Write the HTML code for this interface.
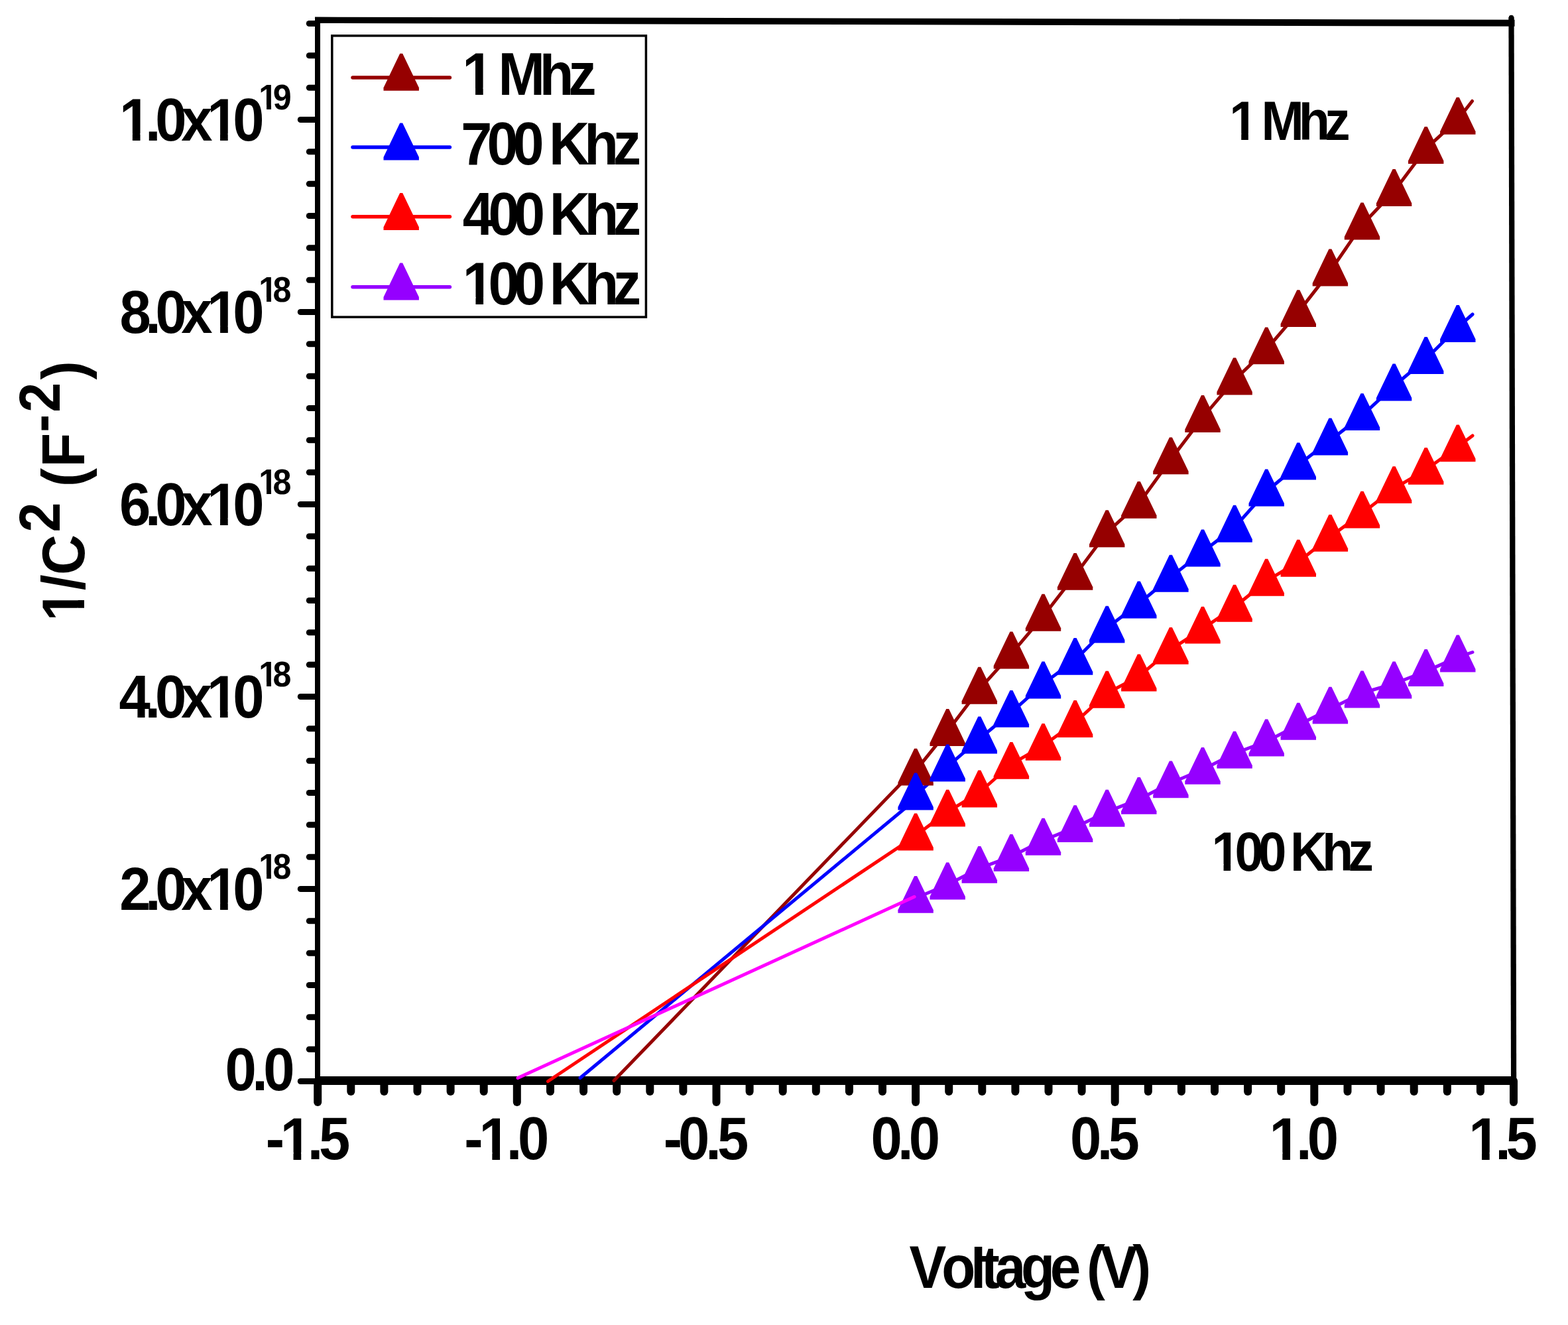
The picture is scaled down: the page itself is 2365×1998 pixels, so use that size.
<!DOCTYPE html>
<html><head><meta charset="utf-8"><title>1/C2 vs Voltage</title>
<style>html,body{margin:0;padding:0;background:#fff;overflow:hidden;}svg{display:block;}</style>
</head><body>
<svg width="2365" height="1998" viewBox="0 0 2365 1998">
<defs>
<clipPath id="c1_54" clipPathUnits="userSpaceOnUse"><rect x="-20" y="-64.8" width="64.8" height="57.79"/><rect x="12.60" y="-8.51" width="7.41" height="21.71"/></clipPath>
<clipPath id="ca_54" clipPathUnits="userSpaceOnUse"><rect x="-20" y="-37.15" width="64.8" height="53.35"/></clipPath>
<clipPath id="c1_83" clipPathUnits="userSpaceOnUse"><rect x="-20" y="-99.6" width="99.6" height="89.63"/><rect x="19.37" y="-11.47" width="11.39" height="33.37"/></clipPath>
<clipPath id="ca_83" clipPathUnits="userSpaceOnUse"><rect x="-20" y="-57.10" width="99.6" height="82.00"/></clipPath>
<clipPath id="c1_90" clipPathUnits="userSpaceOnUse"><rect x="-20" y="-108.0" width="108.0" height="97.32"/><rect x="21.01" y="-12.18" width="12.35" height="36.18"/></clipPath>
<clipPath id="ca_90" clipPathUnits="userSpaceOnUse"><rect x="-20" y="-61.92" width="108.0" height="88.92"/></clipPath>
<clipPath id="c1_91" clipPathUnits="userSpaceOnUse"><rect x="-20" y="-109.2" width="109.2" height="98.41"/><rect x="21.24" y="-12.29" width="12.49" height="36.59"/></clipPath>
<clipPath id="ca_91" clipPathUnits="userSpaceOnUse"><rect x="-20" y="-62.61" width="109.2" height="89.91"/></clipPath>
<clipPath id="c1_91_5" clipPathUnits="userSpaceOnUse"><rect x="-20" y="-109.8" width="109.8" height="98.96"/><rect x="21.36" y="-12.34" width="12.55" height="36.79"/></clipPath>
<clipPath id="ca_91_5" clipPathUnits="userSpaceOnUse"><rect x="-20" y="-62.95" width="109.8" height="90.40"/></clipPath>
</defs>
<rect width="2365" height="1998" fill="#fff"/>
<line x1="453.3" y1="1630.5" x2="477" y2="1630.5" stroke="#000" stroke-width="9" stroke-linecap="round"/>
<line x1="466.3" y1="1582.2" x2="477" y2="1582.2" stroke="#000" stroke-width="9" stroke-linecap="round"/>
<line x1="466.3" y1="1533.8" x2="477" y2="1533.8" stroke="#000" stroke-width="9" stroke-linecap="round"/>
<line x1="466.3" y1="1485.5" x2="477" y2="1485.5" stroke="#000" stroke-width="9" stroke-linecap="round"/>
<line x1="466.3" y1="1437.2" x2="477" y2="1437.2" stroke="#000" stroke-width="9" stroke-linecap="round"/>
<line x1="466.3" y1="1388.8" x2="477" y2="1388.8" stroke="#000" stroke-width="9" stroke-linecap="round"/>
<line x1="453.3" y1="1340.5" x2="477" y2="1340.5" stroke="#000" stroke-width="9" stroke-linecap="round"/>
<line x1="466.3" y1="1292.2" x2="477" y2="1292.2" stroke="#000" stroke-width="9" stroke-linecap="round"/>
<line x1="466.3" y1="1243.8" x2="477" y2="1243.8" stroke="#000" stroke-width="9" stroke-linecap="round"/>
<line x1="466.3" y1="1195.5" x2="477" y2="1195.5" stroke="#000" stroke-width="9" stroke-linecap="round"/>
<line x1="466.3" y1="1147.2" x2="477" y2="1147.2" stroke="#000" stroke-width="9" stroke-linecap="round"/>
<line x1="466.3" y1="1098.8" x2="477" y2="1098.8" stroke="#000" stroke-width="9" stroke-linecap="round"/>
<line x1="453.3" y1="1050.5" x2="477" y2="1050.5" stroke="#000" stroke-width="9" stroke-linecap="round"/>
<line x1="466.3" y1="1002.2" x2="477" y2="1002.2" stroke="#000" stroke-width="9" stroke-linecap="round"/>
<line x1="466.3" y1="953.8" x2="477" y2="953.8" stroke="#000" stroke-width="9" stroke-linecap="round"/>
<line x1="466.3" y1="905.5" x2="477" y2="905.5" stroke="#000" stroke-width="9" stroke-linecap="round"/>
<line x1="466.3" y1="857.2" x2="477" y2="857.2" stroke="#000" stroke-width="9" stroke-linecap="round"/>
<line x1="466.3" y1="808.8" x2="477" y2="808.8" stroke="#000" stroke-width="9" stroke-linecap="round"/>
<line x1="453.3" y1="760.5" x2="477" y2="760.5" stroke="#000" stroke-width="9" stroke-linecap="round"/>
<line x1="466.3" y1="712.2" x2="477" y2="712.2" stroke="#000" stroke-width="9" stroke-linecap="round"/>
<line x1="466.3" y1="663.8" x2="477" y2="663.8" stroke="#000" stroke-width="9" stroke-linecap="round"/>
<line x1="466.3" y1="615.5" x2="477" y2="615.5" stroke="#000" stroke-width="9" stroke-linecap="round"/>
<line x1="466.3" y1="567.2" x2="477" y2="567.2" stroke="#000" stroke-width="9" stroke-linecap="round"/>
<line x1="466.3" y1="518.8" x2="477" y2="518.8" stroke="#000" stroke-width="9" stroke-linecap="round"/>
<line x1="453.3" y1="470.5" x2="477" y2="470.5" stroke="#000" stroke-width="9" stroke-linecap="round"/>
<line x1="466.3" y1="422.2" x2="477" y2="422.2" stroke="#000" stroke-width="9" stroke-linecap="round"/>
<line x1="466.3" y1="373.8" x2="477" y2="373.8" stroke="#000" stroke-width="9" stroke-linecap="round"/>
<line x1="466.3" y1="325.5" x2="477" y2="325.5" stroke="#000" stroke-width="9" stroke-linecap="round"/>
<line x1="466.3" y1="277.2" x2="477" y2="277.2" stroke="#000" stroke-width="9" stroke-linecap="round"/>
<line x1="466.3" y1="228.8" x2="477" y2="228.8" stroke="#000" stroke-width="9" stroke-linecap="round"/>
<line x1="453.3" y1="180.5" x2="477" y2="180.5" stroke="#000" stroke-width="9" stroke-linecap="round"/>
<line x1="466.3" y1="132.2" x2="477" y2="132.2" stroke="#000" stroke-width="9" stroke-linecap="round"/>
<line x1="466.3" y1="83.8" x2="477" y2="83.8" stroke="#000" stroke-width="9" stroke-linecap="round"/>
<line x1="466.3" y1="35.5" x2="477" y2="35.5" stroke="#000" stroke-width="9" stroke-linecap="round"/>
<line x1="479.2" y1="1630" x2="479.2" y2="1662" stroke="#000" stroke-width="12" stroke-linecap="round"/>
<line x1="529.3" y1="1630" x2="529.3" y2="1646" stroke="#000" stroke-width="12" stroke-linecap="round"/>
<line x1="579.4" y1="1630" x2="579.4" y2="1646" stroke="#000" stroke-width="12" stroke-linecap="round"/>
<line x1="629.5" y1="1630" x2="629.5" y2="1646" stroke="#000" stroke-width="12" stroke-linecap="round"/>
<line x1="679.6" y1="1630" x2="679.6" y2="1646" stroke="#000" stroke-width="12" stroke-linecap="round"/>
<line x1="729.7" y1="1630" x2="729.7" y2="1646" stroke="#000" stroke-width="12" stroke-linecap="round"/>
<line x1="779.8" y1="1630" x2="779.8" y2="1662" stroke="#000" stroke-width="12" stroke-linecap="round"/>
<line x1="830.0" y1="1630" x2="830.0" y2="1646" stroke="#000" stroke-width="12" stroke-linecap="round"/>
<line x1="880.1" y1="1630" x2="880.1" y2="1646" stroke="#000" stroke-width="12" stroke-linecap="round"/>
<line x1="930.2" y1="1630" x2="930.2" y2="1646" stroke="#000" stroke-width="12" stroke-linecap="round"/>
<line x1="980.3" y1="1630" x2="980.3" y2="1646" stroke="#000" stroke-width="12" stroke-linecap="round"/>
<line x1="1030.4" y1="1630" x2="1030.4" y2="1646" stroke="#000" stroke-width="12" stroke-linecap="round"/>
<line x1="1080.5" y1="1630" x2="1080.5" y2="1662" stroke="#000" stroke-width="12" stroke-linecap="round"/>
<line x1="1130.6" y1="1630" x2="1130.6" y2="1646" stroke="#000" stroke-width="12" stroke-linecap="round"/>
<line x1="1180.7" y1="1630" x2="1180.7" y2="1646" stroke="#000" stroke-width="12" stroke-linecap="round"/>
<line x1="1230.8" y1="1630" x2="1230.8" y2="1646" stroke="#000" stroke-width="12" stroke-linecap="round"/>
<line x1="1280.9" y1="1630" x2="1280.9" y2="1646" stroke="#000" stroke-width="12" stroke-linecap="round"/>
<line x1="1331.0" y1="1630" x2="1331.0" y2="1646" stroke="#000" stroke-width="12" stroke-linecap="round"/>
<line x1="1381.1" y1="1630" x2="1381.1" y2="1662" stroke="#000" stroke-width="12" stroke-linecap="round"/>
<line x1="1431.2" y1="1630" x2="1431.2" y2="1646" stroke="#000" stroke-width="12" stroke-linecap="round"/>
<line x1="1481.3" y1="1630" x2="1481.3" y2="1646" stroke="#000" stroke-width="12" stroke-linecap="round"/>
<line x1="1531.4" y1="1630" x2="1531.4" y2="1646" stroke="#000" stroke-width="12" stroke-linecap="round"/>
<line x1="1581.5" y1="1630" x2="1581.5" y2="1646" stroke="#000" stroke-width="12" stroke-linecap="round"/>
<line x1="1631.6" y1="1630" x2="1631.6" y2="1646" stroke="#000" stroke-width="12" stroke-linecap="round"/>
<line x1="1681.7" y1="1630" x2="1681.7" y2="1662" stroke="#000" stroke-width="12" stroke-linecap="round"/>
<line x1="1731.8" y1="1630" x2="1731.8" y2="1646" stroke="#000" stroke-width="12" stroke-linecap="round"/>
<line x1="1781.9" y1="1630" x2="1781.9" y2="1646" stroke="#000" stroke-width="12" stroke-linecap="round"/>
<line x1="1832.0" y1="1630" x2="1832.0" y2="1646" stroke="#000" stroke-width="12" stroke-linecap="round"/>
<line x1="1882.1" y1="1630" x2="1882.1" y2="1646" stroke="#000" stroke-width="12" stroke-linecap="round"/>
<line x1="1932.2" y1="1630" x2="1932.2" y2="1646" stroke="#000" stroke-width="12" stroke-linecap="round"/>
<line x1="1982.3" y1="1630" x2="1982.3" y2="1662" stroke="#000" stroke-width="12" stroke-linecap="round"/>
<line x1="2032.5" y1="1630" x2="2032.5" y2="1646" stroke="#000" stroke-width="12" stroke-linecap="round"/>
<line x1="2082.6" y1="1630" x2="2082.6" y2="1646" stroke="#000" stroke-width="12" stroke-linecap="round"/>
<line x1="2132.7" y1="1630" x2="2132.7" y2="1646" stroke="#000" stroke-width="12" stroke-linecap="round"/>
<line x1="2182.8" y1="1630" x2="2182.8" y2="1646" stroke="#000" stroke-width="12" stroke-linecap="round"/>
<line x1="2232.9" y1="1630" x2="2232.9" y2="1646" stroke="#000" stroke-width="12" stroke-linecap="round"/>
<line x1="2283.0" y1="1630" x2="2283.0" y2="1662" stroke="#000" stroke-width="12" stroke-linecap="round"/>
<rect x="475" y="26" width="8" height="1610" fill="#000"/>
<path d="M2275.4,26 L2283.6,26 L2287.2,1636 L2279,1636 Z" fill="#000"/>
<line x1="2279.5" y1="26.5" x2="2279.5" y2="30" stroke="#000" stroke-width="7.5" stroke-linecap="round"/>
<path d="M475,25.6 L2284.5,29.8 L2284.5,39.8 L475,35 Z" fill="#000"/>
<rect x="475" y="1623" width="1812" height="13" fill="#000"/>
<line x1="926.0" y1="1629.5" x2="1381.1" y2="1158.5" stroke="#960000" stroke-width="5.0" stroke-linecap="round"/>
<line x1="875.0" y1="1625.5" x2="1381.1" y2="1205.5" stroke="#0000ff" stroke-width="5.0" stroke-linecap="round"/>
<line x1="826.5" y1="1630.5" x2="1381.1" y2="1260.5" stroke="#ff0000" stroke-width="5.0" stroke-linecap="round"/>
<polyline points="1381.1,1162.1 1429.2,1102.4 1477.3,1039.2 1525.4,985.9 1573.5,929.2 1621.6,867.3 1669.7,802.7 1717.8,759.3 1765.9,692.8 1814.0,629.5 1862.1,572.9 1910.2,526.8 1958.3,470.6 2006.4,408.9 2054.5,338.9 2102.6,288.5 2150.7,224.4 2198.8,180.2 2220.5,152.5" fill="none" stroke="#960000" stroke-width="5.0" stroke-linejoin="round" stroke-linecap="round"/>
<polyline points="1381.1,1198.9 1429.2,1156.0 1477.3,1114.0 1525.4,1074.3 1573.5,1031.0 1621.6,995.3 1669.7,947.1 1717.8,910.0 1765.9,870.2 1814.0,832.0 1862.1,795.2 1910.2,741.0 1958.3,701.0 2006.4,664.0 2054.5,626.6 2102.6,582.0 2150.7,541.4 2198.8,493.5 2221.0,474.0" fill="none" stroke="#0000ff" stroke-width="5.0" stroke-linejoin="round" stroke-linecap="round"/>
<polyline points="1381.1,1260.0 1429.2,1224.1 1477.3,1195.0 1525.4,1152.3 1573.5,1124.3 1621.6,1089.5 1669.7,1045.2 1717.8,1019.9 1765.9,979.3 1814.0,948.1 1862.1,915.2 1910.2,876.2 1958.3,847.2 2006.4,809.3 2054.5,774.1 2102.6,736.6 2150.7,708.3 2198.8,673.8 2221.0,657.0" fill="none" stroke="#ff0000" stroke-width="5.0" stroke-linejoin="round" stroke-linecap="round"/>
<polyline points="1381.1,1354.3 1429.2,1334.0 1477.3,1309.3 1525.4,1291.4 1573.5,1267.2 1621.6,1247.6 1669.7,1224.2 1717.8,1205.3 1765.9,1180.8 1814.0,1160.3 1862.1,1136.2 1910.2,1118.0 1958.3,1093.2 2006.4,1069.1 2054.5,1045.0 2102.6,1031.0 2150.7,1012.4 2198.8,990.9 2221.0,983.5" fill="none" stroke="#9500ff" stroke-width="5.0" stroke-linejoin="round" stroke-linecap="round"/>
<path d="M1379.1,1128.7 L1383.1,1128.7 L1407.8,1180.1 L1407.8,1184.6 L1354.4,1184.6 L1354.4,1180.1 Z" fill="#960000"/>
<path d="M1427.2,1069.0 L1431.2,1069.0 L1455.9,1120.4 L1455.9,1124.9 L1402.5,1124.9 L1402.5,1120.4 Z" fill="#960000"/>
<path d="M1475.3,1005.8 L1479.3,1005.8 L1504.0,1057.2 L1504.0,1061.7 L1450.6,1061.7 L1450.6,1057.2 Z" fill="#960000"/>
<path d="M1523.4,952.5 L1527.4,952.5 L1552.1,1003.9 L1552.1,1008.4 L1498.7,1008.4 L1498.7,1003.9 Z" fill="#960000"/>
<path d="M1571.5,895.8 L1575.5,895.8 L1600.2,947.2 L1600.2,951.7 L1546.8,951.7 L1546.8,947.2 Z" fill="#960000"/>
<path d="M1619.6,833.9 L1623.6,833.9 L1648.3,885.3 L1648.3,889.8 L1594.9,889.8 L1594.9,885.3 Z" fill="#960000"/>
<path d="M1667.7,769.3 L1671.7,769.3 L1696.4,820.7 L1696.4,825.2 L1643.0,825.2 L1643.0,820.7 Z" fill="#960000"/>
<path d="M1715.8,725.9 L1719.8,725.9 L1744.5,777.3 L1744.5,781.8 L1691.1,781.8 L1691.1,777.3 Z" fill="#960000"/>
<path d="M1763.9,659.4 L1767.9,659.4 L1792.6,710.8 L1792.6,715.3 L1739.2,715.3 L1739.2,710.8 Z" fill="#960000"/>
<path d="M1812.0,596.1 L1816.0,596.1 L1840.7,647.5 L1840.7,652.0 L1787.3,652.0 L1787.3,647.5 Z" fill="#960000"/>
<path d="M1860.1,539.5 L1864.1,539.5 L1888.8,590.9 L1888.8,595.4 L1835.4,595.4 L1835.4,590.9 Z" fill="#960000"/>
<path d="M1908.2,493.4 L1912.2,493.4 L1936.9,544.8 L1936.9,549.3 L1883.5,549.3 L1883.5,544.8 Z" fill="#960000"/>
<path d="M1956.3,437.2 L1960.3,437.2 L1985.0,488.6 L1985.0,493.1 L1931.6,493.1 L1931.6,488.6 Z" fill="#960000"/>
<path d="M2004.4,375.5 L2008.4,375.5 L2033.1,426.9 L2033.1,431.4 L1979.7,431.4 L1979.7,426.9 Z" fill="#960000"/>
<path d="M2052.5,305.5 L2056.5,305.5 L2081.2,356.9 L2081.2,361.4 L2027.8,361.4 L2027.8,356.9 Z" fill="#960000"/>
<path d="M2100.6,255.1 L2104.6,255.1 L2129.3,306.5 L2129.3,311.0 L2075.9,311.0 L2075.9,306.5 Z" fill="#960000"/>
<path d="M2148.7,191.0 L2152.7,191.0 L2177.4,242.4 L2177.4,246.9 L2124.0,246.9 L2124.0,242.4 Z" fill="#960000"/>
<path d="M2196.8,146.8 L2200.8,146.8 L2225.5,198.2 L2225.5,202.7 L2172.1,202.7 L2172.1,198.2 Z" fill="#960000"/>
<path d="M1379.1,1165.5 L1383.1,1165.5 L1407.8,1216.9 L1407.8,1221.4 L1354.4,1221.4 L1354.4,1216.9 Z" fill="#0000ff"/>
<path d="M1427.2,1122.6 L1431.2,1122.6 L1455.9,1174.0 L1455.9,1178.5 L1402.5,1178.5 L1402.5,1174.0 Z" fill="#0000ff"/>
<path d="M1475.3,1080.6 L1479.3,1080.6 L1504.0,1132.0 L1504.0,1136.5 L1450.6,1136.5 L1450.6,1132.0 Z" fill="#0000ff"/>
<path d="M1523.4,1040.9 L1527.4,1040.9 L1552.1,1092.3 L1552.1,1096.8 L1498.7,1096.8 L1498.7,1092.3 Z" fill="#0000ff"/>
<path d="M1571.5,997.6 L1575.5,997.6 L1600.2,1049.0 L1600.2,1053.5 L1546.8,1053.5 L1546.8,1049.0 Z" fill="#0000ff"/>
<path d="M1619.6,961.9 L1623.6,961.9 L1648.3,1013.3 L1648.3,1017.8 L1594.9,1017.8 L1594.9,1013.3 Z" fill="#0000ff"/>
<path d="M1667.7,913.7 L1671.7,913.7 L1696.4,965.1 L1696.4,969.6 L1643.0,969.6 L1643.0,965.1 Z" fill="#0000ff"/>
<path d="M1715.8,876.6 L1719.8,876.6 L1744.5,928.0 L1744.5,932.5 L1691.1,932.5 L1691.1,928.0 Z" fill="#0000ff"/>
<path d="M1763.9,836.8 L1767.9,836.8 L1792.6,888.2 L1792.6,892.7 L1739.2,892.7 L1739.2,888.2 Z" fill="#0000ff"/>
<path d="M1812.0,798.6 L1816.0,798.6 L1840.7,850.0 L1840.7,854.5 L1787.3,854.5 L1787.3,850.0 Z" fill="#0000ff"/>
<path d="M1860.1,761.8 L1864.1,761.8 L1888.8,813.2 L1888.8,817.7 L1835.4,817.7 L1835.4,813.2 Z" fill="#0000ff"/>
<path d="M1908.2,707.6 L1912.2,707.6 L1936.9,759.0 L1936.9,763.5 L1883.5,763.5 L1883.5,759.0 Z" fill="#0000ff"/>
<path d="M1956.3,667.6 L1960.3,667.6 L1985.0,719.0 L1985.0,723.5 L1931.6,723.5 L1931.6,719.0 Z" fill="#0000ff"/>
<path d="M2004.4,630.6 L2008.4,630.6 L2033.1,682.0 L2033.1,686.5 L1979.7,686.5 L1979.7,682.0 Z" fill="#0000ff"/>
<path d="M2052.5,593.2 L2056.5,593.2 L2081.2,644.6 L2081.2,649.1 L2027.8,649.1 L2027.8,644.6 Z" fill="#0000ff"/>
<path d="M2100.6,548.6 L2104.6,548.6 L2129.3,600.0 L2129.3,604.5 L2075.9,604.5 L2075.9,600.0 Z" fill="#0000ff"/>
<path d="M2148.7,508.0 L2152.7,508.0 L2177.4,559.4 L2177.4,563.9 L2124.0,563.9 L2124.0,559.4 Z" fill="#0000ff"/>
<path d="M2196.8,460.1 L2200.8,460.1 L2225.5,511.5 L2225.5,516.0 L2172.1,516.0 L2172.1,511.5 Z" fill="#0000ff"/>
<path d="M1379.1,1226.6 L1383.1,1226.6 L1407.8,1278.0 L1407.8,1282.5 L1354.4,1282.5 L1354.4,1278.0 Z" fill="#ff0000"/>
<path d="M1427.2,1190.7 L1431.2,1190.7 L1455.9,1242.1 L1455.9,1246.6 L1402.5,1246.6 L1402.5,1242.1 Z" fill="#ff0000"/>
<path d="M1475.3,1161.6 L1479.3,1161.6 L1504.0,1213.0 L1504.0,1217.5 L1450.6,1217.5 L1450.6,1213.0 Z" fill="#ff0000"/>
<path d="M1523.4,1118.9 L1527.4,1118.9 L1552.1,1170.3 L1552.1,1174.8 L1498.7,1174.8 L1498.7,1170.3 Z" fill="#ff0000"/>
<path d="M1571.5,1090.9 L1575.5,1090.9 L1600.2,1142.3 L1600.2,1146.8 L1546.8,1146.8 L1546.8,1142.3 Z" fill="#ff0000"/>
<path d="M1619.6,1056.1 L1623.6,1056.1 L1648.3,1107.5 L1648.3,1112.0 L1594.9,1112.0 L1594.9,1107.5 Z" fill="#ff0000"/>
<path d="M1667.7,1011.8 L1671.7,1011.8 L1696.4,1063.2 L1696.4,1067.7 L1643.0,1067.7 L1643.0,1063.2 Z" fill="#ff0000"/>
<path d="M1715.8,986.5 L1719.8,986.5 L1744.5,1037.9 L1744.5,1042.4 L1691.1,1042.4 L1691.1,1037.9 Z" fill="#ff0000"/>
<path d="M1763.9,945.9 L1767.9,945.9 L1792.6,997.3 L1792.6,1001.8 L1739.2,1001.8 L1739.2,997.3 Z" fill="#ff0000"/>
<path d="M1812.0,914.7 L1816.0,914.7 L1840.7,966.1 L1840.7,970.6 L1787.3,970.6 L1787.3,966.1 Z" fill="#ff0000"/>
<path d="M1860.1,881.8 L1864.1,881.8 L1888.8,933.2 L1888.8,937.7 L1835.4,937.7 L1835.4,933.2 Z" fill="#ff0000"/>
<path d="M1908.2,842.8 L1912.2,842.8 L1936.9,894.2 L1936.9,898.7 L1883.5,898.7 L1883.5,894.2 Z" fill="#ff0000"/>
<path d="M1956.3,813.8 L1960.3,813.8 L1985.0,865.2 L1985.0,869.7 L1931.6,869.7 L1931.6,865.2 Z" fill="#ff0000"/>
<path d="M2004.4,775.9 L2008.4,775.9 L2033.1,827.3 L2033.1,831.8 L1979.7,831.8 L1979.7,827.3 Z" fill="#ff0000"/>
<path d="M2052.5,740.7 L2056.5,740.7 L2081.2,792.1 L2081.2,796.6 L2027.8,796.6 L2027.8,792.1 Z" fill="#ff0000"/>
<path d="M2100.6,703.2 L2104.6,703.2 L2129.3,754.6 L2129.3,759.1 L2075.9,759.1 L2075.9,754.6 Z" fill="#ff0000"/>
<path d="M2148.7,674.9 L2152.7,674.9 L2177.4,726.3 L2177.4,730.8 L2124.0,730.8 L2124.0,726.3 Z" fill="#ff0000"/>
<path d="M2196.8,640.4 L2200.8,640.4 L2225.5,691.8 L2225.5,696.3 L2172.1,696.3 L2172.1,691.8 Z" fill="#ff0000"/>
<path d="M1379.1,1320.9 L1383.1,1320.9 L1407.8,1372.3 L1407.8,1376.8 L1354.4,1376.8 L1354.4,1372.3 Z" fill="#9500ff"/>
<path d="M1427.2,1300.6 L1431.2,1300.6 L1455.9,1352.0 L1455.9,1356.5 L1402.5,1356.5 L1402.5,1352.0 Z" fill="#9500ff"/>
<path d="M1475.3,1275.9 L1479.3,1275.9 L1504.0,1327.3 L1504.0,1331.8 L1450.6,1331.8 L1450.6,1327.3 Z" fill="#9500ff"/>
<path d="M1523.4,1258.0 L1527.4,1258.0 L1552.1,1309.4 L1552.1,1313.9 L1498.7,1313.9 L1498.7,1309.4 Z" fill="#9500ff"/>
<path d="M1571.5,1233.8 L1575.5,1233.8 L1600.2,1285.2 L1600.2,1289.7 L1546.8,1289.7 L1546.8,1285.2 Z" fill="#9500ff"/>
<path d="M1619.6,1214.2 L1623.6,1214.2 L1648.3,1265.6 L1648.3,1270.1 L1594.9,1270.1 L1594.9,1265.6 Z" fill="#9500ff"/>
<path d="M1667.7,1190.8 L1671.7,1190.8 L1696.4,1242.2 L1696.4,1246.7 L1643.0,1246.7 L1643.0,1242.2 Z" fill="#9500ff"/>
<path d="M1715.8,1171.9 L1719.8,1171.9 L1744.5,1223.3 L1744.5,1227.8 L1691.1,1227.8 L1691.1,1223.3 Z" fill="#9500ff"/>
<path d="M1763.9,1147.4 L1767.9,1147.4 L1792.6,1198.8 L1792.6,1203.3 L1739.2,1203.3 L1739.2,1198.8 Z" fill="#9500ff"/>
<path d="M1812.0,1126.9 L1816.0,1126.9 L1840.7,1178.3 L1840.7,1182.8 L1787.3,1182.8 L1787.3,1178.3 Z" fill="#9500ff"/>
<path d="M1860.1,1102.8 L1864.1,1102.8 L1888.8,1154.2 L1888.8,1158.7 L1835.4,1158.7 L1835.4,1154.2 Z" fill="#9500ff"/>
<path d="M1908.2,1084.6 L1912.2,1084.6 L1936.9,1136.0 L1936.9,1140.5 L1883.5,1140.5 L1883.5,1136.0 Z" fill="#9500ff"/>
<path d="M1956.3,1059.8 L1960.3,1059.8 L1985.0,1111.2 L1985.0,1115.7 L1931.6,1115.7 L1931.6,1111.2 Z" fill="#9500ff"/>
<path d="M2004.4,1035.7 L2008.4,1035.7 L2033.1,1087.1 L2033.1,1091.6 L1979.7,1091.6 L1979.7,1087.1 Z" fill="#9500ff"/>
<path d="M2052.5,1011.6 L2056.5,1011.6 L2081.2,1063.0 L2081.2,1067.5 L2027.8,1067.5 L2027.8,1063.0 Z" fill="#9500ff"/>
<path d="M2100.6,997.6 L2104.6,997.6 L2129.3,1049.0 L2129.3,1053.5 L2075.9,1053.5 L2075.9,1049.0 Z" fill="#9500ff"/>
<path d="M2148.7,979.0 L2152.7,979.0 L2177.4,1030.4 L2177.4,1034.9 L2124.0,1034.9 L2124.0,1030.4 Z" fill="#9500ff"/>
<path d="M2196.8,957.5 L2200.8,957.5 L2225.5,1008.9 L2225.5,1013.4 L2172.1,1013.4 L2172.1,1008.9 Z" fill="#9500ff"/>
<line x1="781.0" y1="1625.5" x2="1379.1" y2="1352.3" stroke="#ff00ff" stroke-width="5.0" stroke-linecap="round"/>
<rect x="500.8" y="53.9" width="473.6" height="424.2" fill="none" stroke="#000" stroke-width="3.5"/>
<line x1="532" y1="117.0" x2="678.4" y2="117.0" stroke="#960000" stroke-width="5.5" stroke-linecap="round"/>
<path d="M603.2,80.8 L607.2,80.8 L631.9,132.2 L631.9,136.7 L578.5,136.7 L578.5,132.2 Z" fill="#960000"/>
<line x1="532" y1="222.0" x2="678.4" y2="222.0" stroke="#0000ff" stroke-width="5.5" stroke-linecap="round"/>
<path d="M603.2,185.5 L607.2,185.5 L631.9,236.9 L631.9,241.4 L578.5,241.4 L578.5,236.9 Z" fill="#0000ff"/>
<line x1="532" y1="326.8" x2="678.4" y2="326.8" stroke="#ff0000" stroke-width="5.5" stroke-linecap="round"/>
<path d="M603.2,291.0 L607.2,291.0 L631.9,342.4 L631.9,346.9 L578.5,346.9 L578.5,342.4 Z" fill="#ff0000"/>
<line x1="532" y1="432.8" x2="678.4" y2="432.8" stroke="#9500ff" stroke-width="5.5" stroke-linecap="round"/>
<path d="M603.2,396.6 L607.2,396.6 L631.9,448.0 L631.9,452.5 L578.5,452.5 L578.5,448.0 Z" fill="#9500ff"/>
<g font-family="'Liberation Sans', Arial, sans-serif" font-weight="bold" fill="#000">
<g transform="translate(179.98,212.00) scale(0.93,1)"><text x="0" y="0" font-size="91.5" clip-path="url(#c1_91_5)">1</text></g>
<text x="235.44 251.88 293.78" y="212.00" font-size="91.5" transform="scale(0.93,1)">.0x</text>
<g transform="translate(312.19,212.00) scale(0.93,1)"><text x="0" y="0" font-size="91.5" clip-path="url(#c1_91_5)">1</text></g>
<text x="377.60" y="212.00" font-size="91.5" transform="scale(0.93,1)">0</text>
<g transform="translate(390.37,165.00) scale(0.93,1)"><text x="0" y="0" font-size="54" clip-path="url(#c1_54)">1</text></g>
<text x="442.83" y="165.00" font-size="54" transform="scale(0.93,1)">9</text>
<text x="193.98 235.79 252.15 293.96" y="502.00" font-size="91.5" transform="scale(0.93,1)">8.0x</text>
<g transform="translate(312.27,502.00) scale(0.93,1)"><text x="0" y="0" font-size="91.5" clip-path="url(#c1_91_5)">1</text></g>
<text x="377.60" y="502.00" font-size="91.5" transform="scale(0.93,1)">0</text>
<g transform="translate(390.37,455.00) scale(0.93,1)"><text x="0" y="0" font-size="54" clip-path="url(#c1_54)">1</text></g>
<text x="442.49" y="455.00" font-size="54" transform="scale(0.93,1)">8</text>
<text x="193.53 235.44 251.88 293.78" y="792.00" font-size="91.5" transform="scale(0.93,1)">6.0x</text>
<g transform="translate(312.19,792.00) scale(0.93,1)"><text x="0" y="0" font-size="91.5" clip-path="url(#c1_91_5)">1</text></g>
<text x="377.60" y="792.00" font-size="91.5" transform="scale(0.93,1)">0</text>
<g transform="translate(390.37,745.00) scale(0.93,1)"><text x="0" y="0" font-size="54" clip-path="url(#c1_54)">1</text></g>
<text x="442.49" y="745.00" font-size="54" transform="scale(0.93,1)">8</text>
<text x="192.92 234.95 251.51 293.54" y="1082.00" font-size="91.5" transform="scale(0.93,1)">4.0x</text>
<g transform="translate(312.08,1082.00) scale(0.93,1)"><text x="0" y="0" font-size="91.5" clip-path="url(#c1_91_5)">1</text></g>
<text x="377.60" y="1082.00" font-size="91.5" transform="scale(0.93,1)">0</text>
<g transform="translate(390.37,1035.00) scale(0.93,1)"><text x="0" y="0" font-size="54" clip-path="url(#c1_54)">1</text></g>
<text x="442.49" y="1035.00" font-size="54" transform="scale(0.93,1)">8</text>
<text x="193.71 235.58 251.98 293.86" y="1372.00" font-size="91.5" transform="scale(0.93,1)">2.0x</text>
<g transform="translate(312.22,1372.00) scale(0.93,1)"><text x="0" y="0" font-size="91.5" clip-path="url(#c1_91_5)">1</text></g>
<text x="377.60" y="1372.00" font-size="91.5" transform="scale(0.93,1)">0</text>
<g transform="translate(390.37,1325.00) scale(0.93,1)"><text x="0" y="0" font-size="54" clip-path="url(#c1_54)">1</text></g>
<text x="442.49" y="1325.00" font-size="54" transform="scale(0.93,1)">8</text>
<text x="365.09 408.81 427.06" y="1644.00" font-size="91.5" transform="scale(0.93,1)">0.0</text>
<text x="430.83" y="1748.50" font-size="91.5" transform="scale(0.93,1)">-</text>
<g transform="translate(422.70,1748.50) scale(0.93,1)"><text x="0" y="0" font-size="91.5" clip-path="url(#c1_91_5)">1</text></g>
<text x="498.62 517.25" y="1748.50" font-size="91.5" transform="scale(0.93,1)">.5</text>
<text x="753.09" y="1748.50" font-size="91.5" transform="scale(0.93,1)">-</text>
<g transform="translate(722.51,1748.50) scale(0.93,1)"><text x="0" y="0" font-size="91.5" clip-path="url(#c1_91_5)">1</text></g>
<text x="821.11 839.85" y="1748.50" font-size="91.5" transform="scale(0.93,1)">.0</text>
<text x="1076.00 1100.04 1144.49 1163.49" y="1748.50" font-size="91.5" transform="scale(0.93,1)">-0.5</text>
<text x="1412.51 1455.96 1473.94" y="1748.50" font-size="91.5" transform="scale(0.93,1)">0.0</text>
<text x="1735.63 1779.23 1797.36" y="1748.50" font-size="91.5" transform="scale(0.93,1)">0.5</text>
<g transform="translate(1914.48,1748.50) scale(0.93,1)"><text x="0" y="0" font-size="91.5" clip-path="url(#c1_91_5)">1</text></g>
<text x="2102.17 2120.28" y="1748.50" font-size="91.5" transform="scale(0.93,1)">.0</text>
<g transform="translate(2215.18,1748.50) scale(0.93,1)"><text x="0" y="0" font-size="91.5" clip-path="url(#c1_91_5)">1</text></g>
<text x="2424.95 2442.52" y="1748.50" font-size="91.5" transform="scale(0.93,1)">.5</text>
<g transform="translate(697.31,143.40) scale(0.93,1)"><text x="0" y="0" font-size="91" clip-path="url(#c1_91)">1</text></g>
<text x="807.98" y="143.40" font-size="91" transform="scale(0.93,1)">M</text>
<g transform="translate(813.68,143.40) scale(0.93,1)"><text x="0" y="0" font-size="91" clip-path="url(#ca_91)">h</text></g>
<text x="921.66" y="143.40" font-size="91" transform="scale(0.93,1)">z</text>
<text x="747.70 789.70 831.70 873.70 890.37" y="248.30" font-size="91" transform="scale(0.93,1)">700 K</text>
<g transform="translate(881.16,248.30) scale(0.93,1)"><text x="0" y="0" font-size="91" clip-path="url(#ca_91)">h</text></g>
<text x="994.45" y="248.30" font-size="91" transform="scale(0.93,1)">z</text>
<text x="750.24 791.81 833.39 874.97 891.22" y="353.90" font-size="91" transform="scale(0.93,1)">400 K</text>
<g transform="translate(881.55,353.90) scale(0.93,1)"><text x="0" y="0" font-size="91" clip-path="url(#ca_91)">h</text></g>
<text x="994.45" y="353.90" font-size="91" transform="scale(0.93,1)">z</text>
<g transform="translate(697.71,458.80) scale(0.93,1)"><text x="0" y="0" font-size="91" clip-path="url(#c1_91)">1</text></g>
<text x="791.81 833.39 874.96 891.22" y="458.80" font-size="91" transform="scale(0.93,1)">00 K</text>
<g transform="translate(881.55,458.80) scale(0.93,1)"><text x="0" y="0" font-size="91" clip-path="url(#ca_91)">h</text></g>
<text x="994.45" y="458.80" font-size="91" transform="scale(0.93,1)">z</text>
<g transform="translate(1854.22,211.30) scale(0.93,1)"><text x="0" y="0" font-size="83" clip-path="url(#c1_83)">1</text></g>
<text x="2045.78" y="211.30" font-size="83" transform="scale(0.93,1)">M</text>
<g transform="translate(1958.86,211.30) scale(0.93,1)"><text x="0" y="0" font-size="83" clip-path="url(#ca_83)">h</text></g>
<text x="2148.38" y="211.30" font-size="83" transform="scale(0.93,1)">z</text>
<g transform="translate(1827.52,1313.00) scale(0.93,1)"><text x="0" y="0" font-size="83" clip-path="url(#c1_83)">1</text></g>
<text x="2002.73 2040.39 2078.05 2092.60" y="1313.00" font-size="83" transform="scale(0.93,1)">00 K</text>
<g transform="translate(1993.95,1313.00) scale(0.93,1)"><text x="0" y="0" font-size="83" clip-path="url(#ca_83)">h</text></g>
<text x="2186.23" y="1313.00" font-size="83" transform="scale(0.93,1)">z</text>
<text x="1474.87 1527.08" y="1941.80" font-size="90" transform="scale(0.93,1)">Vo</text>
<g transform="translate(1464.04,1941.80) scale(0.93,1)"><text x="0" y="0" font-size="90" clip-path="url(#ca_90)">l</text></g>
<text x="1591.43 1613.58 1655.82 1702.98 1745.22 1762.40 1784.56 1836.77" y="1941.80" font-size="90" transform="scale(0.93,1)">tage (V)</text>
<g transform="translate(127.3,930.6) rotate(-90)"><g transform="translate(-5.79,0.00) scale(0.93,1)"><text x="0" y="0" font-size="91" clip-path="url(#c1_91)">1</text></g>
<text x="43.69 68.28" y="0.00" font-size="91" transform="scale(0.93,1)">/C</text>
<text x="137.84" y="-36.90" font-size="87" transform="scale(0.93,1)">2</text>
<text x="211.49 243.01" y="0.00" font-size="91" transform="scale(0.93,1)">(F</text>
<text x="299.83 332.19" y="-36.90" font-size="87" transform="scale(0.93,1)">-2</text>
<text x="385.07" y="0.00" font-size="91" transform="scale(0.93,1)">)</text></g>
</g>
</svg>
</body></html>
